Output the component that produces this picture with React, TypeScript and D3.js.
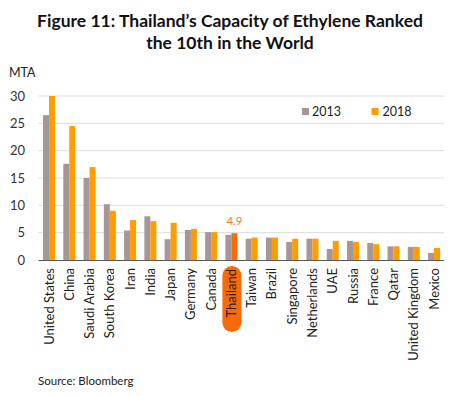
import React from "react";
import * as d3 from "d3";

const countries = ["United States","China","Saudi Arabia","South Korea","Iran","India","Japan","Germany","Canada","Thailand","Taiwan","Brazil","Singapore","Netherlands","UAE","Russia","France","Qatar","United Kingdom","Mexico"];
const v2013 = [26.5,17.6,15.0,10.2,5.4,8.0,3.8,5.5,5.1,4.6,3.9,4.1,3.3,3.9,2.0,3.5,3.1,2.5,2.4,1.3];
const v2018 = [30.0,24.5,17.0,9.0,7.3,7.1,6.8,5.7,5.1,4.9,4.1,4.1,3.9,3.9,3.5,3.3,2.9,2.5,2.4,2.2];
const yTicks = [0,5,10,15,20,25,30];
const seriesNames = ["2013","2018"];
const highlight = "Thailand";

const W = 474, H = 396;
const FONT = "Lato, 'Open Sans', sans-serif";
const GRAY = "#a69695";
const ORANGE = "#ff9c00";
const HIGHLIGHT = "#f96a0b";

export default function App() {
  const x = d3.scaleBand<string>().domain(countries).range([38.9, 444.2]).padding(0);
  const y = d3.scaleLinear().domain([0, 30]).range([260, 96]);
  const bw = 6;
  return (
    <svg width={W} height={H} style={{ position: "absolute", left: 0, top: 0, background: "#fff" }} fontFamily={FONT}>
      <text x={230} y={27} textAnchor="middle" fontWeight="bold" fontSize={17.5} fill="#111">Figure 11: Thailand’s Capacity of Ethylene Ranked</text>
      <text x={230} y={49} textAnchor="middle" fontWeight="bold" fontSize={17.5} fill="#111">the 10th in the World</text>
      <text x={9} y={77} fontSize={12.5} fill="#222">MTA</text>
      {yTicks.map(t => (
        <g key={t}>
          {t > 0 && <line x1={38.5} x2={444} y1={y(t)} y2={y(t)} stroke="#dcdcdc" strokeWidth={1} />}
          <text x={25} y={y(t) + 4.5} textAnchor="end" fontSize={13} fill="#333">{t}</text>
        </g>
      ))}
      {countries.map((c, i) => {
        const cx = (x(c) as number) + x.bandwidth() / 2;
        return (
          <g key={c}>
            <rect x={cx - bw} y={y(v2013[i])} width={bw} height={y(0) - y(v2013[i])} fill={GRAY} />
            <rect x={cx} y={y(v2018[i])} width={bw} height={y(0) - y(v2018[i])} fill={c === highlight ? HIGHLIGHT : ORANGE} />
          </g>
        );
      })}
      <line x1={38.5} x2={444} y1={260.5} y2={260.5} stroke="#595959" strokeWidth={1} />
      {countries.map((c, i) => {
        const cx = (x(c) as number) + x.bandwidth() / 2;
        const hl = c === highlight;
        return (
          <g key={"l" + c}>
            {hl && <rect x={cx - 9} y={266} width={19} height={66} rx={9.5} ry={9.5} fill={HIGHLIGHT} />}
            <text transform={`translate(${cx + 4.5},${hl ? 269 : 268}) rotate(-90)`} textAnchor="end" fontSize={13} fill="#222">{c}</text>
          </g>
        );
      })}
      {countries.map((c, i) => c === highlight ? (
        <text key={"d" + c} x={(x(c) as number) + x.bandwidth() / 2 + 3} y={225} textAnchor="middle" fontSize={11.5} fill="#f07a30">{v2018[i].toFixed(1)}</text>
      ) : null)}
      {seriesNames.map((s, i) => (
        <g key={s}>
          <rect x={i === 0 ? 302 : 371.5} y={108} width={7} height={7} fill={i === 0 ? GRAY : ORANGE} />
          <text x={i === 0 ? 312 : 382.5} y={115.5} fontSize={12.5} fill="#222">{s}</text>
        </g>
      ))}
      <text x={38} y={385} fontSize={11.5} fill="#222">Source: Bloomberg</text>
    </svg>
  );
}
